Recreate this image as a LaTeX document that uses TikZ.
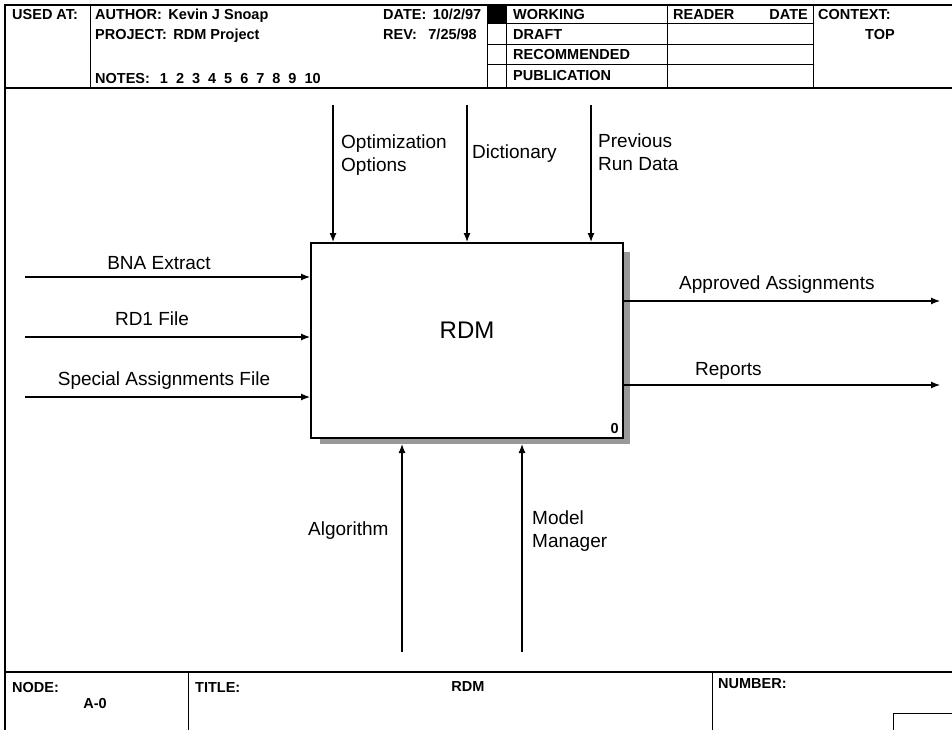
\documentclass[tikz,border=0pt]{standalone}
\usepackage{fontspec}
\setmainfont{Liberation Sans}
\usetikzlibrary{arrows.meta}
\newcommand\ngap{\hspace{8pt}}
\begin{document}
\begin{tikzpicture}[x=1pt,y=-1pt,
  hdr/.style={font=\fontsize{14.5}{16}\selectfont\bfseries, inner sep=0pt},
  lbl/.style={font=\fontsize{19}{23}\selectfont, inner sep=0pt, align=left},
  framel/.style={line width=1.6pt},
  thinl/.style={line width=1pt},
  arr/.style={line width=1.2pt, -{Latex[length=9pt,width=7pt]}},
  shadow/.style={fill=black!40}]
\useasboundingbox (0,0) rectangle (952,730);
% ---------- form frame ----------
\draw[framel] (5,730) -- (5,5) -- (952,5);
\draw[framel] (5,88) -- (952,88);
\draw[framel] (5,672) -- (952,672);
% header columns
\draw[thinl] (90,5) -- (90,88);
\draw[thinl] (487,5) -- (487,88);
\draw[thinl] (506,5) -- (506,88);
\draw[thinl] (667,5) -- (667,88);
\draw[thinl] (813,5) -- (813,88);
\draw[thinl] (487,24) -- (813,24);
\draw[thinl] (487,45) -- (813,45);
\draw[thinl] (487,65) -- (813,65);
\fill (487,5) rectangle (506,24);
% header text
\node[hdr, anchor=base west] (usedat) at (12,20) {USED AT:};
\node[hdr, anchor=base west] (author) at (95,20) {AUTHOR:\, Kevin J Snoap};
\node[hdr, anchor=base west] (project) at (95,40) {PROJECT:\, RDM Project};
\node[hdr, anchor=base west] (notes) at (95,84) {NOTES:\hspace{10pt}1\ngap 2\ngap 3\ngap 4\ngap 5\ngap 6\ngap 7\ngap 8\ngap 9\ngap 10};
\node[hdr, anchor=base west] (date) at (383,20) {DATE:\, 10/2/97};
\node[hdr, anchor=base west] (rev) at (383,40) {REV:};
\node[hdr, anchor=base east] (revd) at (477,40) {7/25/98};
\node[hdr, anchor=base west] (working) at (513,20) {WORKING};
\node[hdr, anchor=base west] (draft) at (513,40) {DRAFT};
\node[hdr, anchor=base west] (recom) at (513,60) {RECOMMENDED};
\node[hdr, anchor=base west] (publ) at (513,81) {PUBLICATION};
\node[hdr, anchor=base west] (reader) at (673,20) {READER};
\node[hdr, anchor=base east] (rdate) at (808,20) {DATE};
\node[hdr, anchor=base west] (context) at (818,20) {CONTEXT:};
\node[hdr, anchor=base] (top) at (880,40) {TOP};
% footer
\draw[thinl] (188,672) -- (188,730);
\draw[thinl] (712,672) -- (712,730);
\draw[thinl] (952,713) -- (893,713) -- (893,730);
\node[hdr, anchor=base west] (nodelbl) at (12,692) {NODE:};
\node[hdr, anchor=base] (nodeval) at (95,708) {A-0};
\node[hdr, anchor=base west] (titlelbl) at (195,692) {TITLE:};
\node[hdr, anchor=base] (titleval) at (468,691) {RDM};
\node[hdr, anchor=base west] (numlbl) at (718,688) {NUMBER:};
% ---------- activity box ----------
\coordinate (sb) at (0,444);
\fill[shadow] (623,252) rectangle (630,444);
\fill[shadow] (320,438) rectangle (630,444);
\node[draw, line width=2pt, minimum width=312pt, minimum height=195pt, inner sep=0pt] (box) at (467,340.5) {};
\node[font=\fontsize{24}{28}\selectfont, inner sep=0pt] (rdm) at (467,330) {RDM};
\node[hdr, anchor=base east] (boxnum) at (619,433) {0};
% controls (top)
\coordinate (t1) at (333,105);
\coordinate (t2) at (467,105);
\coordinate (t3) at (591,105);
\draw[arr] (t1) -- (t1 |- box.north);
\draw[arr] (t2) -- (t2 |- box.north);
\draw[arr] (t3) -- (t3 |- box.north);
\node[lbl, anchor=north west] (optl) at (341,135) {Optimization\\Options};
\node[lbl, anchor=north west] (dictl) at (472,145) {Dictionary};
\node[lbl, anchor=north west] (prevl) at (598,134) {Previous\\Run Data};
% inputs (left)
\coordinate (l1) at (25,277);
\coordinate (l2) at (25,337);
\coordinate (l3) at (25,397);
\draw[arr] (l1) -- (l1 -| box.west);
\draw[arr] (l2) -- (l2 -| box.west);
\draw[arr] (l3) -- (l3 -| box.west);
\node[lbl, anchor=base] (bnal) at (159,269) {BNA Extract};
\node[lbl, anchor=base] (rd1l) at (152,325) {RD1 File};
\node[lbl, anchor=base] (spl) at (164,385) {Special Assignments File};
% outputs (right)
\coordinate (r1) at (940,301);
\coordinate (r2) at (940,385);
\draw[arr] (box.east |- r1) -- (r1);
\draw[arr] (box.east |- r2) -- (r2);
\node[lbl, anchor=base west] (appl) at (679,289) {Approved Assignments};
\node[lbl, anchor=base west] (repl) at (695,375) {Reports};
% mechanisms (bottom)
\coordinate (b1) at (402,652);
\coordinate (b2) at (522,652);
\draw[arr] (b1) -- (b1 |- sb);
\draw[arr] (b2) -- (b2 |- sb);
\node[lbl, anchor=base west] (algl) at (308,535) {Algorithm};
\node[lbl, anchor=north west] (mml) at (532,511) {Model\\Manager};
\end{tikzpicture}
\end{document}
